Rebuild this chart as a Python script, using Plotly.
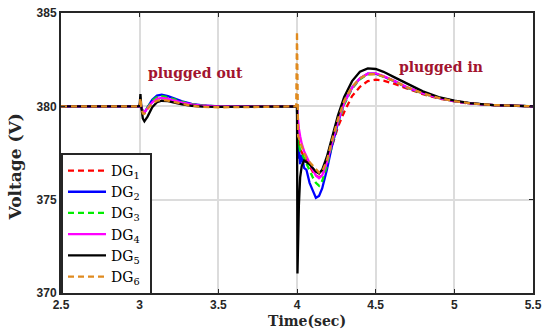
import plotly.graph_objects as go

# time samples (s)
time_s = [2.5, 2.995, 3.0, 3.005, 3.01, 3.02, 3.03, 3.05, 3.08, 3.11, 3.14, 3.18, 3.22, 3.27, 3.33,
          3.4, 3.5, 3.7, 3.995, 4.0, 4.003, 4.007, 4.012, 4.02, 4.03, 4.045, 4.06, 4.08, 4.1, 4.12,
          4.14, 4.16, 4.19, 4.22, 4.26, 4.3, 4.35, 4.4, 4.45, 4.5, 4.55, 4.62, 4.7, 4.8, 4.9,
          5.0, 5.1, 5.25, 5.5]

dg1 = [380, 380, 380.0, 380.25, 379.95, 379.7, 379.68, 379.92, 380.28, 380.46, 380.5, 380.45, 380.34, 380.22, 380.1,
       380.03, 380.0, 380.0, 380.0, 380.0, 378.8, 378.2, 378.0, 377.7, 377.5, 377.3, 377.1, 376.8, 376.5, 376.3,
       376.2, 376.3, 376.9, 377.8, 378.9, 379.7, 380.55, 381.05, 381.35, 381.43, 381.38, 381.2, 380.95, 380.65, 380.42,
       380.26, 380.15, 380.06, 380.0]

dg2 = [380, 380, 380.0, 380.3, 380.0, 379.7, 379.65, 379.95, 380.35, 380.58, 380.62, 380.55, 380.42, 380.27, 380.13,
       380.05, 380.0, 380.0, 380.0, 380.0, 378.2, 377.2, 377.8, 376.9, 377.4, 376.7, 376.6, 375.9, 375.5, 375.1,
       375.2, 375.6, 376.6, 377.8, 379.1, 380.2, 381.0, 381.5, 381.75, 381.75, 381.6, 381.35, 381.0, 380.7, 380.45,
       380.28, 380.16, 380.07, 380.0]

dg3 = [380, 380, 380.0, 380.25, 379.95, 379.7, 379.68, 379.95, 380.3, 380.5, 380.54, 380.48, 380.37, 380.24, 380.12,
       380.04, 380.0, 380.0, 380.0, 380.0, 378.6, 377.9, 378.0, 377.6, 377.5, 377.2, 377.0, 376.6, 376.2, 375.9,
       375.75, 376.0, 376.8, 377.9, 379.1, 380.1, 380.95, 381.45, 381.72, 381.75, 381.6, 381.35, 381.0, 380.68, 380.45,
       380.28, 380.16, 380.07, 380.0]

dg4 = [380, 380, 380.0, 380.2, 379.95, 379.7, 379.68, 379.9, 380.22, 380.4, 380.45, 380.4, 380.3, 380.2, 380.1,
       380.03, 380.0, 380.0, 380.0, 380.0, 379.6, 379.2, 378.8, 378.4, 378.0, 377.6, 377.3, 377.0, 376.6, 376.3,
       376.15, 376.3, 377.0, 378.0, 379.2, 380.2, 381.0, 381.5, 381.75, 381.77, 381.62, 381.36, 381.02, 380.7, 380.45,
       380.28, 380.16, 380.07, 380.0]

dg5 = [380, 380, 380.1, 380.66, 380.0, 379.35, 379.2, 379.45, 379.95, 380.22, 380.3, 380.28, 380.2, 380.1, 380.03,
       379.98, 379.97, 379.98, 380.0, 380.0, 371.05, 373.0, 374.7, 376.2, 376.8, 377.1, 377.0, 376.9, 376.7, 376.5,
       376.4, 376.6, 377.3, 378.3, 379.5, 380.5, 381.35, 381.85, 382.03, 382.0, 381.85, 381.55, 381.2, 380.8, 380.5,
       380.3, 380.17, 380.07, 380.0]

dg6 = [380, 380, 380.0, 380.45, 379.95, 379.62, 379.6, 379.85, 380.15, 380.3, 380.35, 380.3, 380.22, 380.12, 380.03,
       379.97, 379.95, 379.96, 380.0, 384.0, 378.6, 378.4, 378.3, 378.1, 377.8, 377.5, 377.2, 377.0, 376.8, 376.6,
       376.45, 376.5, 377.1, 378.1, 379.3, 380.3, 381.05, 381.5, 381.72, 381.72, 381.6, 381.35, 381.02, 380.7, 380.45,
       380.28, 380.16, 380.07, 380.0]

series_names = ["DG<sub>1</sub>&nbsp;", "DG<sub>2</sub>&nbsp;", "DG<sub>3</sub>&nbsp;",
                "DG<sub>4</sub>&nbsp;", "DG<sub>5</sub>&nbsp;", "DG<sub>6</sub>&nbsp;"]
series_values = [dg1, dg2, dg3, dg4, dg5, dg6]
series_colors = ["#ff0000", "#0000ff", "#00ee00", "#ff00ff", "#000000", "#df8a1f"]
series_dash = ["6px,4px", "solid", "6px,4px", "solid", "solid", "6px,4px"]

x_ticks = [2.5, 3, 3.5, 4, 4.5, 5, 5.5]
x_ticklabels = ["2.5", "3", "3.5", "4", "4.5", "5", "5.5"]
y_ticks = [370, 375, 380, 385]
y_ticklabels = ["370", "375", "380", "385"]

fig = go.Figure()
for name, vals, col, dsh in zip(series_names, series_values, series_colors, series_dash):
    fig.add_trace(go.Scatter(x=time_s, y=vals, mode="lines", name=name,
                             line=dict(color=col, width=2.3, dash=dsh)))

axis_common = dict(showline=True, linecolor="#262626", linewidth=2, mirror="ticks",
                   ticks="inside", ticklen=4, tickcolor="#262626", automargin=False,
                   showgrid=True, gridcolor="#dcdcdc", gridwidth=1.5, zeroline=False,
                   tickfont=dict(family="Liberation Sans", size=12, color="#262626", weight="bold"))

fig.update_xaxes(range=[2.5, 5.5], tickvals=x_ticks, ticktext=x_ticklabels, **axis_common)
fig.update_yaxes(range=[370, 385], tickvals=y_ticks, ticktext=y_ticklabels, **axis_common)

fig.add_annotation(x=3.356, y=381.8, xref="x", yref="y", text="plugged out", showarrow=False,
                   font=dict(family="DejaVu Serif", size=14, color="#a2142f", weight="bold"))
fig.add_annotation(x=4.914, y=382.1, xref="x", yref="y", text="plugged in", showarrow=False,
                   font=dict(family="DejaVu Serif", size=14, color="#a2142f", weight="bold"))
fig.add_annotation(x=0.5207, y=-0.1, xref="paper", yref="paper", text="Time(sec)", showarrow=False,
                   xanchor="center", yanchor="middle",
                   font=dict(family="DejaVu Serif", size=14, color="#262626", weight="bold"))
fig.add_annotation(x=-0.0965, y=0.45, xref="paper", yref="paper", text="Voltage (V)", showarrow=False,
                   xanchor="center", yanchor="middle", textangle=-90,
                   font=dict(family="DejaVu Serif", size=17, color="#262626", weight="bold"))

fig.update_layout(
    width=543, height=333,
    margin=dict(l=61, r=10, t=13, b=40, autoexpand=False),
    paper_bgcolor="white", plot_bgcolor="white",
    legend=dict(x=0, y=-0.007, xanchor="left", yanchor="bottom",
                bgcolor="white", bordercolor="#262626", borderwidth=2,
                font=dict(family="DejaVu Serif", size=14, color="#000000"),
                tracegroupgap=0, itemwidth=38),
)

fig.write_html("out.html")
